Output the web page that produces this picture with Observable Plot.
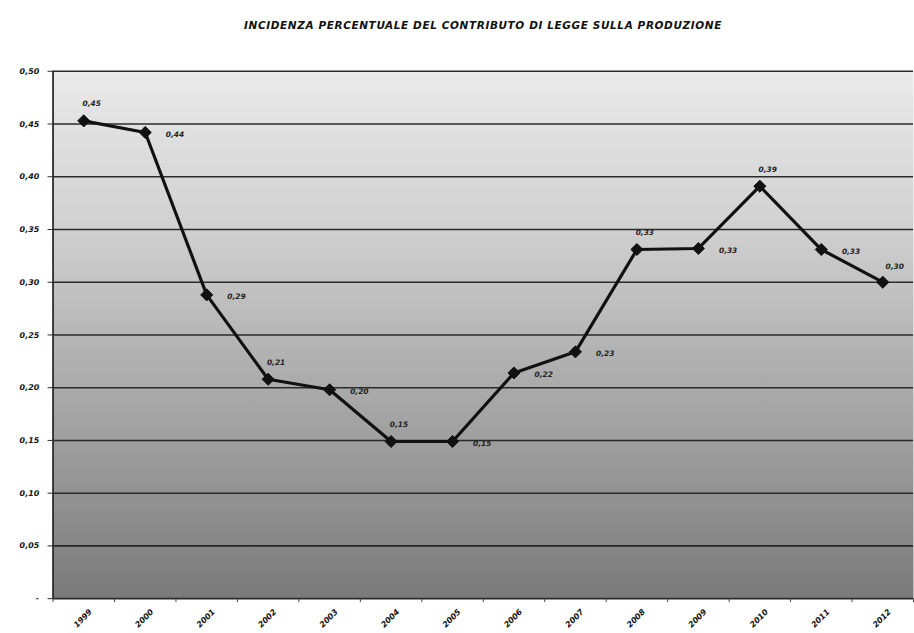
<!DOCTYPE html>
<html>
<head>
<meta charset="utf-8">
<script src="https://cdn.jsdelivr.net/npm/d3@7"></script>
<script src="https://cdn.jsdelivr.net/npm/@observablehq/plot@0.6"></script>
<style>
  html, body { margin: 0; padding: 0; background: #fff; overflow: hidden; width: 914px; height: 633px; }
  #title { height: 45px; box-sizing: border-box; padding-top: 19px; padding-left: 52px; text-align: center;
           font-family: "DejaVu Sans", "Liberation Sans", Arial, sans-serif; font-weight: bold; font-style: italic;
           font-size: 10.5px; color: #111; letter-spacing: 0.6px; width: 914px; }
  #chart svg { display: block; }
</style>
</head>
<body>
<div id="title">INCIDENZA PERCENTUALE DEL CONTRIBUTO DI LEGGE SULLA PRODUZIONE</div>
<div id="chart"></div>
<script>
const years = [1999, 2000, 2001, 2002, 2003, 2004, 2005, 2006, 2007, 2008, 2009, 2010, 2011, 2012];
const values = [0.453, 0.442, 0.288, 0.208, 0.198, 0.149, 0.149, 0.214, 0.234, 0.331, 0.332, 0.391, 0.331, 0.300];
const valueLabels = ["0,45", "0,44", "0,29", "0,21", "0,20", "0,15", "0,15", "0,22", "0,23", "0,33", "0,33", "0,39", "0,33", "0,30"];
const labelsAboveYears = [1999, 2002, 2004, 2008, 2010];
const labelsEdgeYears = [2012];
const yTicks = [0, 0.05, 0.10, 0.15, 0.20, 0.25, 0.30, 0.35, 0.40, 0.45, 0.50];
const yTickLabels = ["-", "0,05", "0,10", "0,15", "0,20", "0,25", "0,30", "0,35", "0,40", "0,45", "0,50"];

const data = years.map((year, i) => ({year, value: values[i], label: valueLabels[i]}));
const above = data.filter(d => labelsAboveYears.includes(d.year));
const edge = data.filter(d => labelsEdgeYears.includes(d.year));
const right = data.filter(d => !labelsAboveYears.includes(d.year) && !labelsEdgeYears.includes(d.year));
const boundaries = years.map(y => y - 0.5).concat([years[years.length - 1] + 0.5]);

const font = "DejaVu Sans, Liberation Sans, Arial, sans-serif";
const txt = {fill: "#222", fontSize: 7.5, fontWeight: "bold", fontStyle: "italic"};

const chart = Plot.plot({
  width: 922,
  height: 588,
  marginLeft: 53,
  marginRight: 1,
  marginTop: 26,
  marginBottom: 30,
  style: {fontFamily: font, fontSize: "7.5px", fontWeight: "bold", fontStyle: "italic", color: "#111", background: "transparent", overflow: "visible"},
  x: {type: "linear", domain: [years[0] - 0.5, years[years.length - 1] + 0.5], label: null},
  y: {domain: [0, 0.5], label: null},
  marks: [
    Plot.frame({fill: "url(#bggrad)", stroke: "none"}),
    Plot.ruleY(yTicks.slice(1), {stroke: "#2a2a2a", strokeWidth: 1.6}),
    Plot.ruleX([years[0] - 0.5], {stroke: "#2a2a2a", strokeWidth: 1.8}),
    Plot.ruleY([0], {stroke: "#2a2a2a", strokeWidth: 1.8}),
    Plot.axisY({ticks: yTicks, tickFormat: (d, i) => yTickLabels[i], tickSize: 5, tickPadding: 9, stroke: "#2a2a2a", fontSize: 8, fill: "#111", label: null}),
    Plot.axisX({ticks: boundaries, tickFormat: () => "", tickSize: 4, stroke: "#444", label: null}),
    Plot.axisX({ticks: years, tickFormat: d => String(d), tickSize: 0, tickRotate: -45, tickPadding: 12, dx: 7, fontSize: 8, fill: "#111", label: null}),
    Plot.line(data, {x: "year", y: "value", stroke: "#111", strokeWidth: 3.2, strokeLinejoin: "round"}),
    Plot.dot(data, {x: "year", y: "value", symbol: "diamond2", r: 5.5, fill: "#111", stroke: "#111", strokeWidth: 1}),
    Plot.text(above, {x: "year", y: "value", text: "label", dy: -17, dx: 8, ...txt}),
    Plot.text(right, {x: "year", y: "value", text: "label", dx: 30, dy: 2, ...txt}),
    Plot.text(edge, {x: "year", y: "value", text: "label", dx: 12, dy: -16, ...txt})
  ]
});

const ns = "http://www.w3.org/2000/svg";
const defs = document.createElementNS(ns, "defs");
const grad = document.createElementNS(ns, "linearGradient");
grad.setAttribute("id", "bggrad");
grad.setAttribute("x1", "0"); grad.setAttribute("y1", "0");
grad.setAttribute("x2", "0"); grad.setAttribute("y2", "1");
[["0", "#eaeaea"], ["0.3", "#d0d0d0"], ["0.55", "#b0b0b0"], ["0.8", "#939393"], ["1", "#7a7a7a"]].forEach(([o, c]) => {
  const s = document.createElementNS(ns, "stop");
  s.setAttribute("offset", o); s.setAttribute("stop-color", c);
  grad.appendChild(s);
});
defs.appendChild(grad);
chart.insertBefore(defs, chart.firstChild);
document.getElementById("chart").appendChild(chart);
</script>
</body>
</html>
